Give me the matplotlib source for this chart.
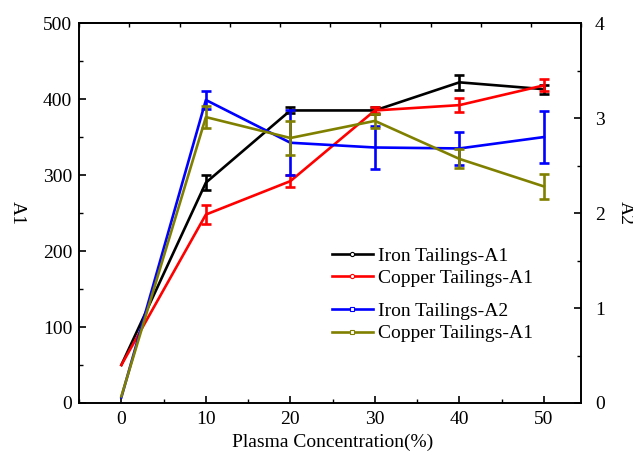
import numpy as np
import matplotlib
matplotlib.use('Agg')
import matplotlib.pyplot as plt
from matplotlib.lines import Line2D
from matplotlib.ticker import MultipleLocator

plt.rcParams['font.family'] = ['Liberation Serif', 'DejaVu Serif']
plt.rcParams['font.size'] = 14

# Plasma concentration (%)
conc = [0, 10, 20, 30, 40, 50]

# A1 values (left axis)
iron_a1 = [50, 290, 385, 385, 422, 413]
iron_a1_err = [0, 10, 4, 5, 10, 6]
copper_a1 = [50, 248, 292, 385, 392, 418]
copper_a1_err = [0, 12, 8, 4, 9, 8]

# A2 values (right axis)
iron_a2 = [0.06, 3.19, 2.74, 2.69, 2.68, 2.80]
iron_a2_err = [0, 0.09, 0.34, 0.23, 0.17, 0.27]
copper_a2 = [0.07, 3.01, 2.79, 2.97, 2.57, 2.28]
copper_a2_err = [0, 0.12, 0.18, 0.07, 0.10, 0.13]

labels_a1 = ['Iron Tailings-A1', 'Copper Tailings-A1']
labels_a2 = ['Iron Tailings-A2', 'Copper Tailings-A1']

fig = plt.figure(figsize=(6.33, 4.55), dpi=100)
ax = fig.add_axes([0.125, 0.1143, 0.793, 0.835])
ax2 = ax.twinx()

lw = 1.9
def draw(a, y, err, color):
    a.plot(conc, y, color=color, lw=lw, zorder=3)
    a.errorbar(conc[1:], y[1:], yerr=err[1:], fmt='none', ecolor=color,
               elinewidth=lw, capsize=3.5, capthick=lw, zorder=3)

draw(ax, iron_a1, iron_a1_err, 'black')
draw(ax, copper_a1, copper_a1_err, '#ff0000')
draw(ax2, iron_a2, iron_a2_err, '#0000ff')
draw(ax2, copper_a2, copper_a2_err, '#808000')

ax.set_xlim(-5, 54.4)
ax.set_ylim(0, 500)
ax2.set_ylim(0, 4)

ax.xaxis.set_major_locator(MultipleLocator(10))
ax.xaxis.set_minor_locator(MultipleLocator(5))
ax.yaxis.set_major_locator(MultipleLocator(100))
ax.yaxis.set_minor_locator(MultipleLocator(50))
ax2.yaxis.set_major_locator(MultipleLocator(1))
ax2.yaxis.set_minor_locator(MultipleLocator(0.5))

ax.tick_params(axis='both', which='both', direction='in', top=False, labelsize=14)
ax.tick_params(which='major', length=5, width=1.2)
ax.tick_params(which='minor', length=3, width=1.0)
ax.tick_params(axis='y', which='both', pad=5)
ax.tick_params(axis='x', which='both', pad=6)
ax2.tick_params(axis='y', which='both', direction='in', labelsize=14, pad=10)
ax2.tick_params(which='major', length=5, width=1.2)
ax2.tick_params(which='minor', length=3, width=1.0)

# top edge: ten equal divisions, no labels
top = ax.secondary_xaxis('top', functions=(lambda v: (v + 5) / 59.4, lambda f: f * 59.4 - 5))
top.set_xticks(np.linspace(0, 1, 11))
top.tick_params(direction='in', length=3, width=1.0, labeltop=False)

for a in (ax, ax2):
    for s in a.spines.values():
        s.set_linewidth(1.2)
top.spines['top'].set_linewidth(1.2)

ax.set_xlabel('Plasma Concentration(%)')
ax.set_ylabel('A1', rotation=270, va='center')
ax2.set_ylabel('A2', rotation=270, va='center')
ax.xaxis.set_label_coords(0.506, -0.08)
ax.yaxis.set_label_coords(-0.124, 0.5)
ax2.yaxis.set_label_coords(1.088, 0.5)

h1 = [Line2D([], [], color=c, lw=lw, marker='o', markersize=3,
             markerfacecolor='white', markeredgewidth=0.8)
      for c in ['black', '#ff0000']]
h2 = [Line2D([], [], color=c, lw=lw, marker='s', markersize=3,
             markerfacecolor='white', markeredgewidth=0.8)
      for c in ['#0000ff', '#808000']]
leg_kw = dict(loc='upper left', bbox_transform=fig.transFigure, frameon=False,
              borderpad=0, borderaxespad=0, handlelength=2.1, handletextpad=0.3,
              labelspacing=0.24, fontsize=14)
leg1 = ax2.legend(h1, labels_a1, bbox_to_anchor=(0.524, 0.457), **leg_kw)
ax2.add_artist(leg1)
ax2.legend(h2, labels_a2, bbox_to_anchor=(0.524, 0.335), **leg_kw)

fig.savefig('out.png', dpi=100)
